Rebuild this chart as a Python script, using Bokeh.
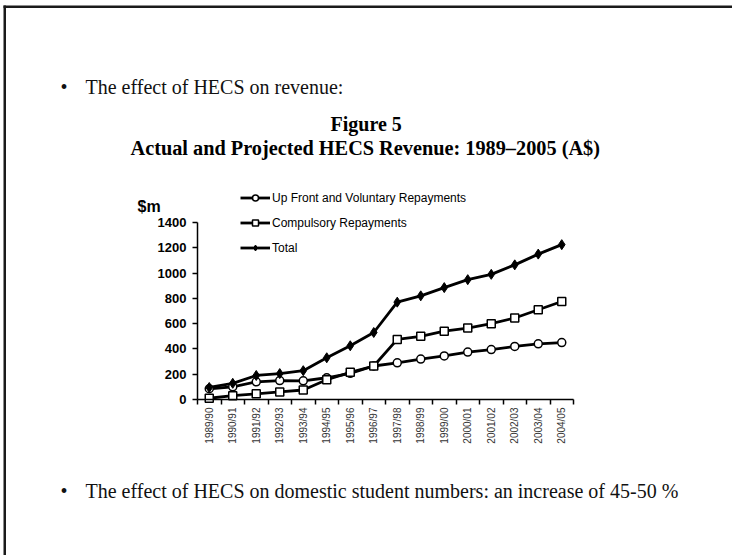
import math
from bokeh.plotting import figure
from bokeh.models import (Range1d, FixedTicker, Label, LinearAxis,
                          Legend, LegendItem, BoxAnnotation)
from bokeh.embed import file_html
from bokeh.resources import INLINE

years = ["1989/90", "1990/91", "1991/92", "1992/93", "1993/94", "1994/95",
         "1995/96", "1996/97", "1997/98", "1998/99", "1999/00", "2000/01",
         "2001/02", "2002/03", "2003/04", "2004/05"]
upfront = [85, 100, 140, 150, 148, 172, 207, 265, 290, 320, 345, 375, 395, 420, 440, 450]
compulsory = [10, 30, 45, 60, 75, 156, 215, 265, 475, 500, 540, 565, 600, 645, 710, 775]
total = [95, 128, 190, 205, 228, 330, 425, 530, 770, 820, 885, 948, 990, 1065, 1150, 1225]
y_ticks = [0, 200, 400, 600, 800, 1000, 1200, 1400]

W, H = 732, 555
# plot-area placement on the page (pixels)
AX_L, AX_R, AX_B, AX_T = 197, 573, 399, 222
Y_MAX = 1400
n = len(years)
kx = (AX_R - AX_L) / (2 * n)       # px per x unit (2 units per category)
ky = (AX_B - AX_T) / Y_MAX          # px per y unit

# categories placed at odd positions 1,3,5..., boundaries at even positions
xc = [2 * i + 1 for i in range(n)]
xb = [2 * i for i in range(n + 1)]

p = figure(width=W, height=H,
           x_range=Range1d(-AX_L / kx, (W - AX_L) / kx),
           y_range=Range1d(-(H - AX_B) / ky, AX_B / ky),
           output_backend="svg", toolbar_location=None,
           min_border_left=0, min_border_right=0, min_border_top=0, min_border_bottom=0)
p.outline_line_color = None
p.xgrid.visible = False
p.ygrid.visible = False
p.background_fill_color = "white"
p.border_fill_color = "white"

yax = p.yaxis[0]
yax.fixed_location = 0
yax.ticker = FixedTicker(ticks=y_ticks)
yax.bounds = (0, Y_MAX)
yax.minor_tick_line_color = None
yax.major_tick_in = 0
yax.major_tick_out = 5
yax.axis_line_width = 1.5
yax.major_tick_line_width = 1.5
yax.axis_line_color = "black"
yax.major_tick_line_color = "black"
yax.major_label_text_font = "Liberation Sans"
yax.major_label_text_font_style = "bold"
yax.major_label_text_font_size = "13px"
yax.major_label_text_color = "black"
yax.major_label_standoff = 6

xax = p.xaxis[0]
xax.fixed_location = 0
xax.ticker = FixedTicker(ticks=xc)
xax.major_label_overrides = {x: y for x, y in zip(xc, years)}
xax.bounds = (0, 2 * n)
xax.axis_line_color = "black"
xax.axis_line_width = 1.5
xax.major_tick_line_color = None
xax.minor_tick_line_color = None
xax.major_tick_in = 0
xax.major_tick_out = 0
xax.major_label_orientation = math.pi / 2
xax.major_label_text_font = "Liberation Sans"
xax.major_label_text_font_size = "10px"
xax.major_label_text_color = "#333333"
xax.major_label_standoff = 8

bax = LinearAxis(ticker=FixedTicker(ticks=xb), fixed_location=0, bounds=(0, 2 * n))
bax.major_label_overrides = {x: "" for x in xb}
bax.major_label_text_font_size = "1px"
bax.major_tick_in = 0
bax.major_tick_out = 5
bax.minor_tick_line_color = None
bax.axis_line_color = None
bax.major_tick_line_width = 1.5
bax.major_tick_line_color = "black"
p.add_layout(bax, "below")

lw = 2.8
r1l = p.line(xc, upfront, line_color="black", line_width=lw)
r2l = p.line(xc, compulsory, line_color="black", line_width=lw)
r3l = p.line(xc, total, line_color="black", line_width=lw)
r1s = p.scatter(xc, upfront, marker="circle", size=8, fill_color="white",
                line_color="black", line_width=1.5)
r2s = p.scatter(xc, compulsory, marker="square", size=8, fill_color="white",
                line_color="black", line_width=1.5)
r3s = p.scatter(xc, total, marker="diamond", size=10, fill_color="black",
                line_color="black", line_width=1)

legend = Legend(items=[
    LegendItem(label="Up Front and Voluntary Repayments", renderers=[r1l, r1s]),
    LegendItem(label="Compulsory Repayments", renderers=[r2l, r2s]),
    LegendItem(label="Total", renderers=[r3l, r3s]),
], location=(240, H - 255), orientation="vertical", glyph_width=30, glyph_height=15,
    label_height=15, spacing=10, padding=0, margin=0, label_standoff=2,
    border_line_color=None, background_fill_alpha=0,
    label_text_font="Liberation Sans", label_text_font_size="12px",
    label_text_color="black")
p.add_layout(legend)


def lab(text, px, py, size, bold=False, font="Liberation Serif", color="#111111"):
    L = Label(x=px, y=H - py, x_units="screen", y_units="screen", text=text,
              text_font=font, text_font_size=size,
              text_font_style="bold" if bold else "normal",
              text_align="left", text_baseline="alphabetic", text_color=color)
    p.add_layout(L)


lab("\u2022", 60, 86, "20px")
lab("The effect of HECS on revenue:", 85, 86, "20px")
lab("Figure 5", 330, 123, "20px", bold=True, color="black")
lab("Actual and Projected HECS Revenue: 1989\u20132005 (A$)", 130, 147, "20.3px", bold=True, color="black")
lab("$m", 137, 206, "16px", bold=True, font="Liberation Sans", color="black")
lab("\u2022", 60, 490, "20px")
lab("The effect of HECS on domestic student numbers: an increase of 45-50 %", 85, 490, "20px")

# slide frame: top and left edges
top_edge = BoxAnnotation(left=3, right=W, top=H - 5, bottom=H - 7.5,
                         left_units="screen", right_units="screen", top_units="screen",
                         bottom_units="screen", fill_color="#1a1a1a", fill_alpha=1,
                         line_color=None)
left_edge = BoxAnnotation(left=3, right=5.5, top=H - 5, bottom=0,
                          left_units="screen", right_units="screen", top_units="screen",
                          bottom_units="screen", fill_color="#1a1a1a", fill_alpha=1,
                          line_color=None)
p.add_layout(top_edge)
p.add_layout(left_edge)

open("out.html", "w").write(file_html(p, INLINE))
